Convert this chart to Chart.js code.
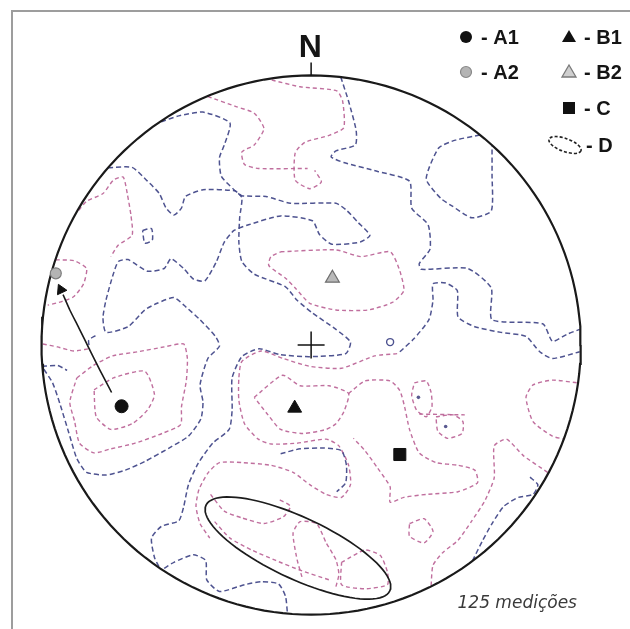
<!DOCTYPE html>
<html>
<head>
<meta charset="utf-8">
<title>Estereograma - 125 medições</title>
<script src="https://cdn.jsdelivr.net/npm/chart.js@4.4.1/dist/chart.umd.min.js"></script>
<style>
  html, body { margin: 0; padding: 0; background: #fff; }
  #wrap { position: relative; width: 630px; height: 629px; overflow: hidden; background: #fff; }
  #frame { position: absolute; left: 11px; top: 10px; width: 660px; height: 660px;
           border-left: 2px solid #9d9d9d; border-top: 2px solid #9d9d9d; }
  #net { position: absolute; left: 0; top: 0; }
</style>
</head>
<body>
<div id="wrap">
  <div id="frame"></div>
  <canvas id="net" width="630" height="629"></canvas>
</div>
<script>
// Net coordinates: primitive circle of radius 100, x to the east, y to the north.

// ---- point maxima ----
const markerNames = ['A1', 'A2', 'B1', 'B2', 'C'];
const markerX = [-70.3, -94.7, -6.1, 7.9, 32.9];
const markerY = [-22.7, 26.6, -23.4, 24.8, -40.6];

// ---- girdle D (ellipse) ----
const dCenter = [-4.9, -75.3];
const dAxes = [37.6, 11.4];
const dTilt = -25;

// ---- rotation path from A1 to A2 ----
const arrowPath = [[-74, -17.6], [-78.3, -9.4], [-82.3, -1.4], [-86.2, 6.5], [-89.5, 13], [-92, 18.7]];
const arrowHead = [-92.8, 20.5];

// ---- small isolated features ----
const smallRing = [29.3, 1.1];
const smallDots = [[39.8, -19.4], [49.9, -30.2]];

// ---- density contours, blue family ----
const blueNorthEast = [[11, 99.4], [13.9, 90.4], [16.7, 79.6], [16.4, 74.2], [9.2, 72], [7.4, 69.8], [12.1, 67.7], [24.7, 64.4], [36.5, 60.8], [37.3, 50.8], [43.4, 44.6], [44.1, 35.6], [40.1, 30.2], [40.9, 28.1], [58.1, 28.4], [66.8, 21.2], [67.1, 9.4], [85.9, 7.9], [89.5, 1.4], [94.9, 4], [99.6, 5.8]];
const blueNorthEastLobe = [[62.6, 77.9], [53.5, 76], [47.3, 73.1], [42.7, 61.6], [48.1, 54.4], [52.4, 51.5], [59.6, 47.2], [66.8, 49.7], [67.1, 63.4], [67.1, 73.8]];
const blueEast = [[32.9, -2.5], [38, 2.2], [43.7, 9.4], [45.2, 16.6], [45.2, 22.7], [49.9, 23], [54.2, 20.2], [54.5, 10.4], [60.7, 6.8], [70.4, 4.7], [79.7, 3.2], [84.8, -2.5], [89.5, -5], [99.6, -2.5]];
const blueCentral = [[-55.6, 82.8], [-49.1, 85], [-40.1, 86.4], [-30.1, 82.4], [-32.2, 74.2], [-34, 69.5], [-33.3, 62.6], [-28.6, 57.6], [-25.7, 54.7], [-26.5, 47.2], [-26.8, 38.2], [-25.7, 31], [-21.1, 26.3], [-9.5, 21.6], [-5.2, 16.6], [0.5, 11.9], [9.2, 5.8], [14.6, 1.1], [12.8, -3.2], [-0.5, -4.3], [-11.3, -3.6], [-19.3, -1.4], [-25.7, -4.3], [-29.3, -12.2], [-29.3, -24.1], [-30.4, -31.3], [-36.5, -36.4], [-41.9, -43.9], [-45.5, -51.8], [-47.3, -60.1], [-49.1, -65.2], [-55.6, -67.3], [-59.2, -71.6], [-58.1, -78.8], [-56.2, -82.6]];
const blueWest = [[-75.3, 65.8], [-66.4, 65.9], [-60.7, 60.8], [-56.3, 56.2], [-53.8, 50.8], [-50.9, 48.2], [-48.1, 50.8], [-46.6, 55.1], [-40.1, 57.6], [-28.3, 57.2], [-25.7, 55.4], [-16.7, 55.1], [-7.7, 52.6], [9.2, 52.6], [13.1, 50], [17.5, 45.4], [21.8, 40.7], [18.2, 38.2], [7.7, 37.4], [3.1, 41], [0.5, 46.1], [-11.3, 47.9], [-23.2, 44.6], [-28.6, 42.5], [-32.2, 38.2], [-35.1, 31], [-39.4, 23.8], [-43.7, 24.5], [-47.3, 28.4], [-52, 32], [-54.5, 28.4], [-60.7, 27.4], [-67.9, 31.7], [-71.5, 31], [-73.6, 25.6], [-76.1, 16.6], [-77.2, 10.1], [-76.1, 4.7], [-67.9, 6.8], [-61.7, 13], [-57.1, 15.5], [-50.9, 17.6], [-46.3, 14], [-41.2, 9.4], [-35.5, 3.2], [-34, -0.4], [-38.3, -5], [-41.2, -14.8], [-40.1, -21.2], [-40.9, -27.4], [-45.5, -33.8], [-52.7, -38.2], [-61.7, -43.2], [-68.9, -46.4], [-76.1, -48.2], [-83.3, -47.2], [-86.9, -42.1], [-89.5, -33.8], [-93.1, -22], [-95.9, -14], [-99.4, -8.6]];
const blueSouth = [[-54.5, -82.8], [-50.9, -80.6], [-43.7, -77.8], [-39.1, -79.9], [-38.7, -87.1], [-34, -91.4], [-24.7, -88.9], [-18.5, -87.8], [-12.1, -88.6], [-9.5, -93.2], [-8.8, -99.4]];
const blueSouthEast = [[81.2, -49], [84.1, -51.8], [82.3, -55.4], [76.9, -56.5], [71.5, -59.8], [67.1, -66.2], [63.5, -72.7], [59.9, -79.9]];
const blueBelowB1 = [[-11.3, -40.3], [-4.1, -38.5], [4.9, -38.2], [11.3, -39.2], [13.1, -44.6], [12.8, -51.1], [9.5, -54.4]];
const blueSmallLoop = [[-62.5, 42.5], [-59.2, 43.2], [-58.9, 38.9], [-61.7, 37.8], [-62.5, 42.5]];
const blueWestRim = [[-99.8, -7.9], [-94, -7.6], [-90.5, -9.4]];
const blueHookWest = [[-80, 3.5], [-82.5, 1.8], [-82.2, -1.2]];

// ---- density contours, pink family ----
const pinkNorth = [[-14.6, 98.3], [-4.1, 95.8], [9.5, 94.3], [11.7, 90.4], [12.1, 80.6], [6.7, 77.8], [-2.3, 75.2], [-5.9, 71.3], [-5.9, 61.2], [-0.5, 58], [3.8, 60.5], [1.3, 64.8]];
const pinkNorthWest = [[-38.3, 92.2], [-28.3, 88.6], [-21.1, 86], [-17.5, 80.3], [-21.1, 74.2], [-25.7, 71.6], [-24.7, 67], [-19.6, 65.5], [-1.3, 65.5]];
const pinkB2 = [[-11.3, 34.6], [9.2, 35.3], [18.5, 32.8], [29.3, 34.6], [32.6, 28.4], [34.4, 20.2], [30.1, 15.8], [21.1, 13], [9.2, 13], [-0.5, 15.5], [-5.9, 21.2], [-9.5, 24.8], [-15.7, 29.5], [-14.9, 32.8], [-11.3, 34.6]];
const pinkB1Outer = [[31.9, -3.2], [23.6, -4], [11.3, -8.6], [-0.5, -7.9], [-10.3, -5], [-18.5, -2.2], [-25.7, -6.1], [-26.8, -12.2], [-26.8, -20.5], [-24.7, -29.2], [-19.6, -34.9], [-14.9, -36.7], [-5.2, -36.4], [5.6, -34.9], [10.3, -37.4], [13.9, -44.6], [14.6, -51.8], [11.3, -56.5], [5.6, -55.4], [-0.5, -51.8], [-6.7, -47.2], [-14.9, -44.6], [-25.7, -43.6], [-34, -43.6], [-38.3, -47.5], [-41.6, -53.6], [-42.7, -59.8], [-41.2, -66.2], [-37.6, -71.6]];
const pinkB1Inner = [[-21.1, -19.4], [-10.6, -11.2], [-4.1, -15.1], [6.7, -15.1], [13.9, -18], [12.1, -24.8], [9.2, -29.2], [5.6, -31.3], [-3.1, -32.8], [-11.3, -31.3], [-16, -25.9], [-21.1, -19.4]];
const pinkEastLobe = [[13.9, -18], [20, -13.3], [29.3, -13.3], [32.9, -16.9], [34.7, -23], [36.5, -31.3], [40.1, -40], [46.3, -43.6], [54.5, -44.6], [60.7, -46.4], [61.7, -51.1], [54.5, -54.4], [42.7, -55.4], [34.4, -56.5], [29.3, -58.3], [29.3, -52.6], [24.7, -45.7], [20, -39.2], [15.7, -34.6]];
const pinkSmallA = [[38.3, -14], [42.7, -13.3], [44.5, -17.6], [44.8, -23], [42.7, -26.6], [39.1, -24.1], [37.3, -18.7], [38.3, -14]];
const pinkSmallB = [[46.3, -26.6], [52.7, -25.9], [56.3, -28.4], [56, -32.8], [50.6, -34.6], [47, -32], [46.3, -26.6]];
const pinkTie = [[40.1, -25.6], [57, -25.9]];
const pinkEastRim = [[98.5, -14], [89.5, -13], [82.3, -14.8], [79.7, -19.4], [82.3, -28.4], [89.5, -33.8], [93.6, -34.8]];
const pinkSouthEast = [[87.7, -47.2], [78.7, -41], [72.5, -34.9], [67.9, -37.4], [67.9, -49.3], [64.3, -58], [59.6, -65.2], [54.5, -72.4], [48.8, -77], [45.2, -81.7], [44.5, -89.3]];
const pinkSmallC = [[36.5, -66.2], [41.9, -64.4], [45.2, -69.1], [41.9, -73.4], [36.5, -70.9], [36.5, -66.2]];
const pinkGirdleUpper = [[-37.3, -55.4], [-32.2, -61.6], [-25.7, -64.1], [-17.5, -66.2], [-10.3, -63.7], [-7.7, -59.8], [-12.1, -57.2]];
const pinkGirdleLower = [[-35.8, -65.5], [-30.1, -71.6], [-22.1, -76], [-13.1, -79.9], [-4.1, -83.5], [6.7, -87.1]];
const pinkSouthLoopA = [[9.2, -89.6], [10.3, -85], [9.2, -79.6], [5.6, -73.4], [2, -66.2], [-4.1, -65.5], [-6.7, -69.8], [-5.2, -79.6], [-3.4, -86]];
const pinkSouthLoopB = [[11.3, -80.6], [20, -76], [25.7, -78.1], [28.3, -84.2], [28.3, -88.9], [20, -90.4], [11.3, -88.9], [11.3, -80.6]];
const pinkA1Inner = [[-80.5, -16.6], [-73.3, -12.2], [-61.7, -9.7], [-58.1, -18.4], [-60.7, -24.1], [-66.4, -29.2], [-74.3, -31.3], [-79.7, -26.6], [-80.5, -16.6]];
const pinkA1Outer = [[-86.9, -12.2], [-80.8, -7.6], [-73.6, -4], [-64.3, -2.5], [-54.5, -0.7], [-47.3, 0.4], [-45.9, -5], [-46.3, -13.3], [-48.1, -23], [-48.4, -29.5], [-55.3, -32.8], [-65.3, -36.4], [-74.3, -38.5], [-80.5, -40], [-85.9, -36.4], [-87.7, -28.4], [-89.5, -21.2], [-86.9, -12.2]];
const pinkNorthWestRim = [[-86.2, 50], [-83.3, 53.3], [-77.2, 56.2], [-73.3, 61.2], [-69.7, 62.3], [-68.2, 56.2], [-66.8, 47.9], [-66.4, 40.7], [-71.5, 37.1], [-74.3, 32.8]];
const pinkA2 = [[-94.7, 31.6], [-88, 31.3], [-83.3, 28.4], [-84.4, 22.7], [-88, 18], [-92.3, 16.2], [-97.7, 14.8]];
const pinkWestRim = [[-99.5, 0.4], [-94.1, -0.7], [-88, -2.2], [-82.6, -1.4]];

const blueContours = [blueNorthEast, blueNorthEastLobe, blueEast, blueCentral, blueWest, blueSouth, blueSouthEast, blueBelowB1, blueSmallLoop, blueWestRim, blueHookWest];
const pinkContours = [pinkNorth, pinkNorthWest, pinkB2, pinkB1Outer, pinkB1Inner, pinkEastLobe, pinkSmallA, pinkSmallB, pinkTie, pinkEastRim, pinkSouthEast, pinkSmallC, pinkGirdleUpper, pinkGirdleLower, pinkSouthLoopA, pinkSouthLoopB, pinkA1Inner, pinkA1Outer, pinkNorthWestRim, pinkA2, pinkWestRim];

// ---- labels ----
const northLabel = 'N';
const countLabel = '125 medições';
const legendLabels = ['A1', 'A2', 'B1', 'B2', 'C', 'D'];

// ---- layout of the net on the canvas ----
const W = 630, H = 629;
const NET_CX = 311, NET_CY = 346, NET_R = 278;   // pixels
const PX_PER_UNIT = NET_R / 100;
const xMin = -NET_CX / PX_PER_UNIT, xMax = (W - NET_CX) / PX_PER_UNIT;
const yMax = NET_CY / PX_PER_UNIT, yMin = -(H - NET_CY) / PX_PER_UNIT;

const BLUE = 'rgba(68,74,138,0.95)';
const PINK = 'rgba(185,95,148,0.9)';

const toPts = arr => arr.map(([x, y]) => ({ x, y }));

function primitiveCircle() {
  const pts = [];
  for (let a = 0; a <= 360; a += 2) {
    const t = a * Math.PI / 180;
    pts.push({ x: 100 * Math.cos(t), y: 100 * Math.sin(t) });
  }
  return pts;
}

function girdleEllipse() {
  const pts = [];
  const phi = dTilt * Math.PI / 180;
  for (let a = 0; a <= 360; a += 4) {
    const t = a * Math.PI / 180;
    const ex = dAxes[0] * Math.cos(t), ey = dAxes[1] * Math.sin(t);
    pts.push({
      x: dCenter[0] + ex * Math.cos(phi) - ey * Math.sin(phi),
      y: dCenter[1] + ex * Math.sin(phi) + ey * Math.cos(phi)
    });
  }
  return pts;
}

function lineSet(points, color, width, dash, tension) {
  return {
    data: points, showLine: true, borderColor: color, borderWidth: width,
    borderDash: dash, pointRadius: 0, fill: false, tension: tension
  };
}

function markerSet(i, style, radius, fillColor, edgeColor, edgeWidth, rotation) {
  return {
    data: [{ x: markerX[i], y: markerY[i] }], showLine: false,
    pointStyle: style, pointRadius: radius, pointBackgroundColor: fillColor,
    pointBorderColor: edgeColor, pointBorderWidth: edgeWidth, pointRotation: rotation || 0
  };
}

const datasets = [];
// markers on top
datasets.push(markerSet(0, 'circle', 6.5, '#111', '#111', 1));
datasets.push(markerSet(1, 'circle', 5.5, '#b4b4b4', '#7d7d7d', 1.2));
datasets.push(markerSet(2, 'triangle', 8, '#111', '#111', 1));
datasets.push(markerSet(3, 'triangle', 8, '#b9b9b9', '#6f6f6f', 1.2));
datasets.push(markerSet(4, 'rect', 8.5, '#111', '#111', 1));
// arrow head and shaft
datasets.push({ data: [{ x: arrowHead[0], y: arrowHead[1] }], showLine: false, pointStyle: 'triangle',
  pointRadius: 6, pointBackgroundColor: '#111', pointBorderColor: '#111', pointBorderWidth: 1, pointRotation: -25 });
datasets.push(lineSet(toPts(arrowPath), '#1a1a1a', 1.6, [], 0.2));
// small features
datasets.push({ data: [{ x: smallRing[0], y: smallRing[1] }], showLine: false, pointStyle: 'circle',
  pointRadius: 3.5, pointBackgroundColor: 'rgba(0,0,0,0)', pointBorderColor: BLUE, pointBorderWidth: 1.4 });
datasets.push({ data: toPts(smallDots), showLine: false, pointStyle: 'circle',
  pointRadius: 1.8, pointBackgroundColor: '#5a5a90', pointBorderColor: '#5a5a90', pointBorderWidth: 0 });
// centre cross and north tick
datasets.push(lineSet(toPts([[-5, 0], [5, 0]]), '#111', 1.5, [], 0));
datasets.push(lineSet(toPts([[0, -5], [0, 5]]), '#111', 1.5, [], 0));
datasets.push(lineSet(toPts([[0, 100], [0, 104.8]]), '#111', 1.5, [], 0));
// girdle D and primitive
datasets.push(lineSet(girdleEllipse(), '#1c1c1c', 1.7, [], 0));
datasets.push(lineSet(primitiveCircle(), '#1a1a1a', 2.2, [], 0));
// contours
blueContours.forEach(c => datasets.push(lineSet(toPts(c), BLUE, 1.5, [5, 3], 0.2)));
pinkContours.forEach(c => datasets.push(lineSet(toPts(c), PINK, 1.4, [4, 3], 0.2)));

// Labels: N above the primitive, count below, legend in the top right corner.
const netText = {
  id: 'netText',
  afterDraw(chart) {
    const { ctx, scales: { x, y } } = chart;
    ctx.save();
    ctx.fillStyle = '#151515';
    ctx.font = 'bold 32px "Liberation Sans", Arial, sans-serif';
    ctx.textAlign = 'center';
    ctx.textBaseline = 'alphabetic';
    ctx.fillText(northLabel, x.getPixelForValue(-0.3), y.getPixelForValue(106.8));

    ctx.fillStyle = '#3a3a3a';
    ctx.font = 'italic 17px "DejaVu Sans", sans-serif';
    ctx.textAlign = 'left';
    ctx.fillText(countLabel, x.getPixelForValue(54.3), y.getPixelForValue(-97.7));

    // legend
    ctx.font = 'bold 20px "Liberation Sans", Arial, sans-serif';
    ctx.fillStyle = '#151515';
    const rows = [37, 72, 108, 145];
    const colSym = [466, 569];
    const colText = [481, 584];
    const sym = (kind, cx, cy) => {
      ctx.beginPath();
      if (kind === 'dot') {
        ctx.arc(cx, cy, 6, 0, Math.PI * 2);
        ctx.fillStyle = '#111'; ctx.fill();
      } else if (kind === 'greyDot') {
        ctx.arc(cx, cy, 5.5, 0, Math.PI * 2);
        ctx.fillStyle = '#b4b4b4'; ctx.fill();
        ctx.strokeStyle = '#888'; ctx.lineWidth = 1.2; ctx.stroke();
      } else if (kind === 'tri' || kind === 'greyTri') {
        ctx.moveTo(cx, cy - 7); ctx.lineTo(cx + 7, cy + 5); ctx.lineTo(cx - 7, cy + 5); ctx.closePath();
        if (kind === 'tri') { ctx.fillStyle = '#111'; ctx.fill(); }
        else { ctx.fillStyle = '#cfcfcf'; ctx.fill(); ctx.strokeStyle = '#7a7a7a'; ctx.lineWidth = 1.3; ctx.stroke(); }
      } else if (kind === 'square') {
        ctx.rect(cx - 6, cy - 6, 12, 12);
        ctx.fillStyle = '#111'; ctx.fill();
      } else if (kind === 'ellipse') {
        ctx.ellipse(cx, cy, 17, 6.5, 20 * Math.PI / 180, 0, Math.PI * 2);
        ctx.setLineDash([3, 2]); ctx.strokeStyle = '#222'; ctx.lineWidth = 1.6; ctx.stroke();
        ctx.setLineDash([]);
      }
    };
    const entries = [
      ['dot', 0, 0], ['greyDot', 0, 1], ['tri', 1, 0], ['greyTri', 1, 1], ['square', 1, 2], ['ellipse', 1, 3]
    ];
    entries.forEach(([kind, col, row], i) => {
      const cy = rows[row];
      const cx = kind === 'ellipse' ? colSym[col] - 4 : colSym[col];
      sym(kind, cx, cy);
      ctx.fillStyle = '#151515';
      ctx.textAlign = 'left';
      ctx.fillText('- ' + legendLabels[i], colText[col] + (kind === 'ellipse' ? 2 : 0), cy + 7);
    });
    ctx.restore();
  }
};

new Chart(document.getElementById('net'), {
  type: 'scatter',
  data: { datasets },
  options: {
    responsive: false,
    animation: false,
    devicePixelRatio: 1,
    events: [],
    layout: { padding: 0 },
    scales: {
      x: { type: 'linear', min: xMin, max: xMax, display: false },
      y: { type: 'linear', min: yMin, max: yMax, display: false }
    },
    plugins: { legend: { display: false }, tooltip: { enabled: false } }
  },
  plugins: [netText]
});
</script>
</body>
</html>
